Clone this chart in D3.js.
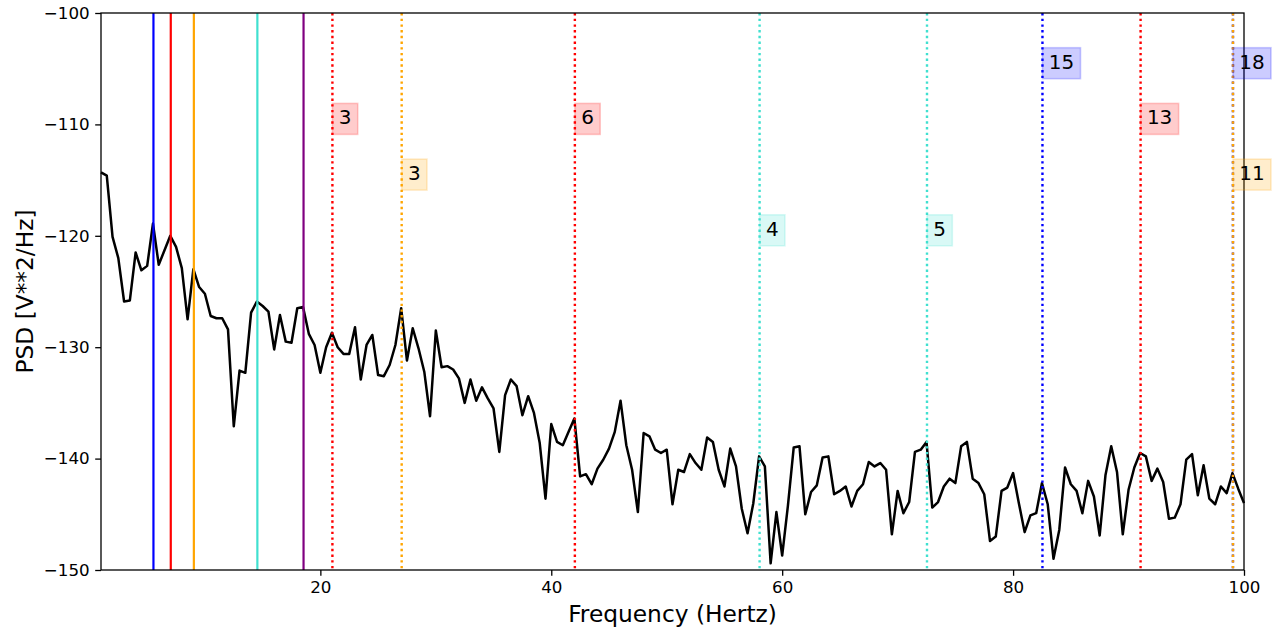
<!DOCTYPE html>
<html><head><meta charset="utf-8">
<script src="https://cdn.jsdelivr.net/npm/d3@7"></script>
<style>body{margin:0;background:#fff} text{font-family:"DejaVu Sans",sans-serif}</style>
</head><body><svg id="c" width="1273" height="630"></svg>
<script>
// ---- data ----
const freqStart = 1, freqEnd = 100, freqStep = 0.5;
const psd = [
-114.3,-114.6,-120.1,-122.0,-125.9,-125.8,-121.5,-123.1,-122.7,-118.9,
-122.6,-121.3,-120.0,-121.0,-122.9,-127.5,-123.0,-124.6,-125.2,-127.2,
-127.4,-127.4,-128.4,-137.1,-132.1,-132.3,-126.9,-125.9,-126.3,-126.8,
-130.2,-127.1,-129.5,-129.6,-126.5,-126.4,-128.8,-129.8,-132.3,-130.0,
-128.7,-130.0,-130.6,-130.6,-128.2,-132.9,-129.8,-128.9,-132.5,-132.6,
-131.6,-129.8,-126.5,-131.2,-128.3,-130.1,-132.2,-136.2,-128.5,-131.8,
-131.7,-132.0,-132.8,-135.0,-132.9,-134.8,-133.6,-134.6,-135.5,-139.4,
-134.3,-132.9,-133.5,-136.1,-134.4,-135.9,-138.6,-143.6,-136.9,-138.5,
-138.8,-137.6,-136.4,-141.6,-141.4,-142.3,-140.9,-140.1,-139.1,-137.6,
-134.8,-138.8,-141.0,-144.8,-137.7,-138.0,-139.2,-139.5,-139.2,-144.1,
-141.0,-141.2,-139.6,-140.4,-141.0,-138.1,-138.5,-141.0,-142.5,-139.1,
-140.7,-144.5,-146.7,-144.0,-139.8,-140.7,-149.4,-144.8,-148.7,-144.2,
-139.0,-138.9,-145.0,-143.0,-142.4,-139.9,-139.8,-143.2,-142.9,-142.5,
-144.3,-142.9,-142.3,-140.3,-140.7,-140.4,-141.0,-146.8,-142.9,-144.9,
-143.9,-139.4,-139.2,-138.5,-144.4,-143.9,-142.5,-141.8,-142.2,-138.9,
-138.5,-141.8,-142.2,-143.2,-147.4,-147.0,-142.9,-142.6,-141.3,-144.0,
-146.6,-145.1,-144.9,-142.2,-144.1,-149.0,-146.4,-140.8,-142.3,-142.9,
-144.9,-142.0,-143.4,-146.9,-141.5,-138.9,-141.2,-146.8,-142.8,-140.8,
-139.5,-139.8,-142.0,-140.9,-142.1,-145.4,-145.3,-144.1,-140.1,-139.6,
-143.3,-140.6,-143.6,-144.1,-142.5,-143.1,-141.3,-142.7,-144.0
];
const baseFreqs   = [5.5, 7, 9, 14.5, 18.5];
const baseColors  = ["blue", "red", "orange", "turquoise", "purple"];
const harmFreqs   = [21, 27, 42, 58, 72.5, 82.5, 91, 99, 99];
const harmColors  = ["red", "orange", "red", "turquoise", "turquoise", "blue", "red", "blue", "orange"];
const harmLabels  = ["3", "3", "6", "4", "5", "15", "13", "18", "11"];
const harmLabelY  = [-110, -115, -110, -120, -120, -105, -110, -105, -115];
const xTicks = [20, 40, 60, 80, 100];
const yTicks = [-150, -140, -130, -120, -110, -100];
const xLabel = "Frequency (Hertz)";
const yLabel = "PSD [V**2/Hz]";

// ---- layout ----
const L = 101, R = 1244, T = 13, B = 570;
const svg = d3.select("#c");
const x = d3.scaleLinear().domain([freqStart, freqEnd]).range([L, R]);
const y = d3.scaleLinear().domain([-150, -100]).range([B, T]);
const freqs = d3.range(psd.length).map(i => freqStart + i * freqStep);
const pts = freqs.map((f, i) => [f, psd[i]]);

// psd line
svg.append("path").datum(pts)
  .attr("fill", "none").attr("stroke", "black").attr("stroke-width", 2.5)
  .attr("stroke-linejoin", "round")
  .attr("d", d3.line().x(d => x(d[0])).y(d => y(d[1])));

// base frequency solid lines
baseFreqs.forEach((f, i) => {
  svg.append("line").attr("x1", x(f) + 0.5).attr("x2", x(f) + 0.5).attr("y1", T).attr("y2", B)
    .attr("stroke", baseColors[i]).attr("stroke-width", 2.2);
});
// harmonic dotted lines
harmFreqs.forEach((f, i) => {
  svg.append("line").attr("x1", x(f) + 0.5).attr("x2", x(f) + 0.5).attr("y1", T).attr("y2", B)
    .attr("stroke", harmColors[i]).attr("stroke-width", 2.4)
    .attr("stroke-dasharray", "2.4,3.3");
});

// axes
const fmt = d => d3.format("d")(d).replace("-", "\u2212");
const gx = svg.append("g").attr("transform", `translate(0,${B})`)
  .call(d3.axisBottom(x).tickValues(xTicks).tickFormat(fmt).tickSize(5.8).tickPadding(5.5));
const gy = svg.append("g").attr("transform", `translate(${L},0)`)
  .call(d3.axisLeft(y).tickValues(yTicks).tickFormat(fmt).tickSize(5.8).tickPadding(5.5));
[gx, gy].forEach(g => {
  g.select(".domain").remove();
  g.selectAll("line").attr("stroke", "black").attr("stroke-width", 1.3);
  g.selectAll("text").attr("font-family", "DejaVu Sans").attr("font-size", 16.7).attr("fill", "black");
});
svg.append("rect").attr("x", L).attr("y", T).attr("width", R - L).attr("height", B - T)
  .attr("fill", "none").attr("stroke", "black").attr("stroke-width", 1.3);

// labels with boxes
harmFreqs.forEach((f, i) => {
  const g = svg.append("g");
  const bx = x(f) + 0.5, by = y(harmLabelY[i]);
  const rect = g.append("rect");
  const t = g.append("text").attr("x", bx + 6.3).attr("y", by)
    .attr("font-size", 20).attr("fill", "black").text(harmLabels[i]);
  const w = t.node().getComputedTextLength();
  const c = d3.color(harmColors[i]);
  rect.attr("x", bx).attr("y", by - 21).attr("width", w + 12.6).attr("height", 31)
    .attr("fill", c.copy({opacity: 0.2}).formatRgb())
    .attr("stroke", c.copy({opacity: 0.2}).formatRgb()).attr("stroke-width", 1.6);
});

// axis titles
svg.append("text").attr("x", (L + R) / 2).attr("y", 622).attr("text-anchor", "middle")
  .attr("font-size", 23.3).attr("fill", "black").text(xLabel);
svg.append("text").attr("transform", `translate(33,${(T + B) / 2}) rotate(-90)`)
  .attr("text-anchor", "middle").attr("font-size", 23.3).attr("fill", "black").text(yLabel);
</script></body></html>
